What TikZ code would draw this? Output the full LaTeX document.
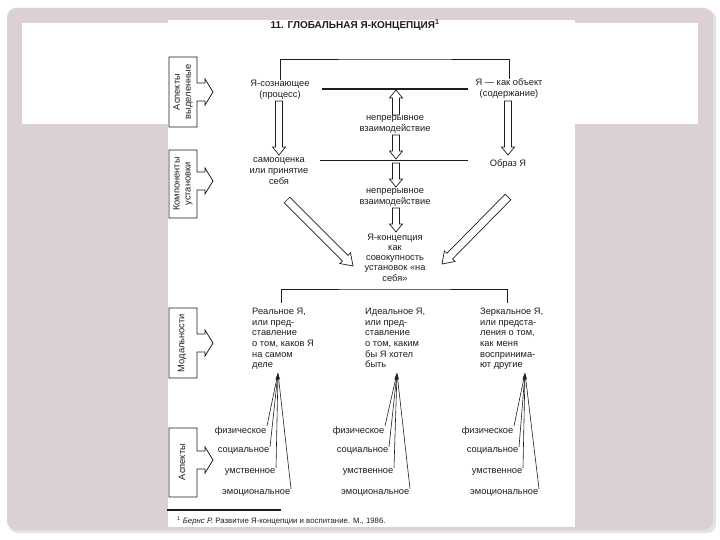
\documentclass[tikz,border=0pt]{standalone}
\usepackage{fontspec}
\setmainfont{Liberation Sans}
\usetikzlibrary{calc,arrows.meta}
\definecolor{bgpink}{HTML}{DAD0D5}
\definecolor{shadowgrey}{HTML}{E6E2E4}
\definecolor{ink}{HTML}{1E1E1E}
% hollow block arrow: #1 from, #2 to, #3 shaft half width, #4 head half width, #5 head length
\newcommand\hollowarr[5]{%
  \draw[hollowstyle] ($(#1)!#3!90:(#2)$) -- ($(#2)!#5!(#1)!#3!-90:(#1)$) -- ($(#2)!#5!(#1)!#4!-90:(#1)$) -- (#2)
    -- ($(#2)!#5!(#1)!#4!90:(#1)$) -- ($(#2)!#5!(#1)!#3!90:(#1)$) -- ($(#1)!#3!-90:(#2)$) -- cycle;}
\tikzset{
  lbl/.style={font=\fontsize{9.3}{10.6}\selectfont, text=ink, inner sep=0pt, align=center},
  lblL/.style={lbl, align=left},
  side/.style={font=\fontsize{9.3}{11}\selectfont, text=ink, rotate=90, align=center, inner sep=0pt},
  hollowstyle/.style={draw=ink, fill=white, line width=0.7pt, line join=miter},
  ln/.style={draw=ink, line width=0.8pt},
  fan/.style={draw=ink, line width=0.6pt, -{Stealth[length=7pt,width=2.6pt]}},
  aspect/.style={font=\fontsize{9.3}{11}\selectfont, text=ink, inner sep=0.5pt, anchor=east},
}
\begin{document}
\begin{tikzpicture}[x=1pt,y=-1pt]
\useasboundingbox (0,0) rectangle (720,540);
% background
\fill[white] (0,0) rectangle (720,540);
\fill[shadowgrey, rounded corners=9pt] (9,10) rectangle (716,533);
\fill[bgpink, rounded corners=9pt] (7,8) rectangle (713,530);
\fill[white] (22,23) rectangle (698,124);
\fill[white] (168,20) rectangle (575,527);

% title
\node[font=\bfseries\fontsize{10}{12}\selectfont, text=ink, inner sep=0pt] (title) at (355,25) {11. ГЛОБАЛЬНАЯ Я-КОНЦЕПЦИЯ\textsuperscript{1}};

% side panels
\draw[ln] (197,83) -- (197,57) -- (169,57) -- (169,127) -- (197,127) -- (197,101) -- (205,101) -- (205,105) -- (213,92) -- (205,79) -- (205,83) -- cycle;
\node[side] (s1) at (183,92) {Аспекты\\выделенные};
\draw[ln] (197,172) -- (197,150) -- (169,150) -- (169,218) -- (197,218) -- (197,190) -- (205,190) -- (205,194) -- (213,181) -- (205,168) -- (205,172) -- cycle;
\node[side] (s2) at (183,184) {Компоненты\\установки};
\draw[ln] (197,334) -- (197,308) -- (169,308) -- (169,378) -- (197,378) -- (197,352) -- (205,352) -- (205,356) -- (213,343) -- (205,330) -- (205,334) -- cycle;
\node[side] (s3) at (182,343) {Модальности};
\draw[ln] (197,451) -- (197,428) -- (169,428) -- (169,497) -- (197,497) -- (197,469) -- (205,469) -- (205,473) -- (213,460) -- (205,447) -- (205,451) -- cycle;
\node[side] (s4) at (182,462) {Аспекты};

% top row
\node[lbl] (ya) at (280,89.5) {Я-сознающее\\(процесс)};
\node[lbl] (yo) at (509,88.5) {Я — как объект\\(содержание)};
\coordinate (topbar) at (395,59);
\draw[ln] (ya.north) |- (topbar) -| (yo.north);
\coordinate (l1a) at (322,89);
\coordinate (l1b) at (468,89);
\draw[draw=ink, line width=1.6pt] (l1a) -- (l1b);
\coordinate (l2a) at (320,160);
\coordinate (l2b) at (468,160);
\draw[draw=ink, line width=0.7pt] (l2a) -- (l2b);

% center column
\node[lbl] (c1) at (395,124.5) {непрерывное\\взаимодействие};
\node[lbl] (c2) at (395,197.5) {непрерывное\\взаимодействие};
\node[lbl, font=\fontsize{9.3}{10.3}\selectfont] (cc) at (395,257.5) {Я-концепция\\как\\совокупность\\установок «на\\себя»};
\coordinate (u1s) at (396,115); \coordinate (u1e) at (396,90);
\hollowarr{u1s}{u1e}{3.5pt}{6.5pt}{8pt}
\coordinate (d1s) at (396,135); \coordinate (d1e) at (396,159);
\hollowarr{d1s}{d1e}{3.5pt}{6.5pt}{8pt}
\coordinate (d2s) at (396,163); \coordinate (d2e) at (396,187);
\hollowarr{d2s}{d2e}{3.5pt}{6.5pt}{8pt}
\coordinate (d3s) at (396,208); \coordinate (d3e) at (396,232);
\hollowarr{d3s}{d3e}{3.5pt}{6.5pt}{8pt}

% side columns
\node[lbl] (so) at (279,171) {самооценка\\или принятие\\себя};
\node[lbl] (oy) at (508,164) {Образ Я};
\coordinate (lvs) at (279,101); \coordinate (lve) at (279,155);
\hollowarr{lvs}{lve}{3.5pt}{6.5pt}{8pt}
\coordinate (rvs) at (508,101); \coordinate (rve) at (508,155);
\hollowarr{rvs}{rve}{3.5pt}{6.5pt}{8pt}
\coordinate (dls) at (287,200); \coordinate (dle) at (353,266);
\hollowarr{dls}{dle}{4pt}{7.5pt}{11pt}
\coordinate (drs) at (508,197); \coordinate (dre) at (442,264);
\hollowarr{drs}{dre}{4pt}{7.5pt}{11pt}

% bottom bracket
\coordinate (botbar) at (395,289);
\coordinate (bl) at (281,303);
\coordinate (br) at (507,303);
\draw[ln] (bl) |- (botbar) -| (br);

% modalities
\node[lblL, anchor=north west] (m1) at (252,308) {Реальное Я,\\или пред-\\ставление\\о том, каков Я\\на самом\\деле};
\node[lblL, anchor=north west] (m2) at (365,308) {Идеальное Я,\\или пред-\\ставление\\о том, каким\\бы Я хотел\\быть};
\node[lblL, anchor=north west] (m3) at (480,308) {Зеркальное Я,\\или предста-\\ления о том,\\как меня\\воспринима-\\ют другие};

% aspects and fans
\coordinate (tipL) at (278,373);
\coordinate (tipM) at (397,373);
\coordinate (tipR) at (525,373);

\node[aspect] (a1f) at (267,431) {физическое};
\node[aspect] (a1s) at (270,451) {социальное};
\node[aspect] (a1u) at (276,472) {умственное};
\node[aspect] (a1e) at (291,493) {эмоциональное};
\node[aspect] (a2f) at (385,431) {физическое};
\node[aspect] (a2s) at (389,451) {социальное};
\node[aspect] (a2u) at (394,472) {умственное};
\node[aspect] (a2e) at (410,493) {эмоциональное};
\node[aspect] (a3f) at (514,431) {физическое};
\node[aspect] (a3s) at (519,451) {социальное};
\node[aspect] (a3u) at (523,472) {умственное};
\node[aspect] (a3e) at (539,493) {эмоциональное};

\foreach \a in {a1f,a1s,a1u,a1e} \draw[fan] (\a.north east) -- (tipL);
\foreach \a in {a2f,a2s,a2u,a2e} \draw[fan] (\a.north east) -- (tipM);
\foreach \a in {a3f,a3s,a3u,a3e} \draw[fan] (\a.north east) -- (tipR);

% footnote
\coordinate (fla) at (167,510);
\coordinate (flb) at (281,510);
\draw[draw=ink, line width=1.2pt] (fla) -- (flb);
\node[anchor=west, font=\fontsize{7.8}{9}\selectfont, text=ink, inner sep=0pt] (fn) at (177,521) {\textsuperscript{1} \textit{Бернс Р.} Развитие Я-концепции и воспитание. М., 1986.};
\end{tikzpicture}
\end{document}
